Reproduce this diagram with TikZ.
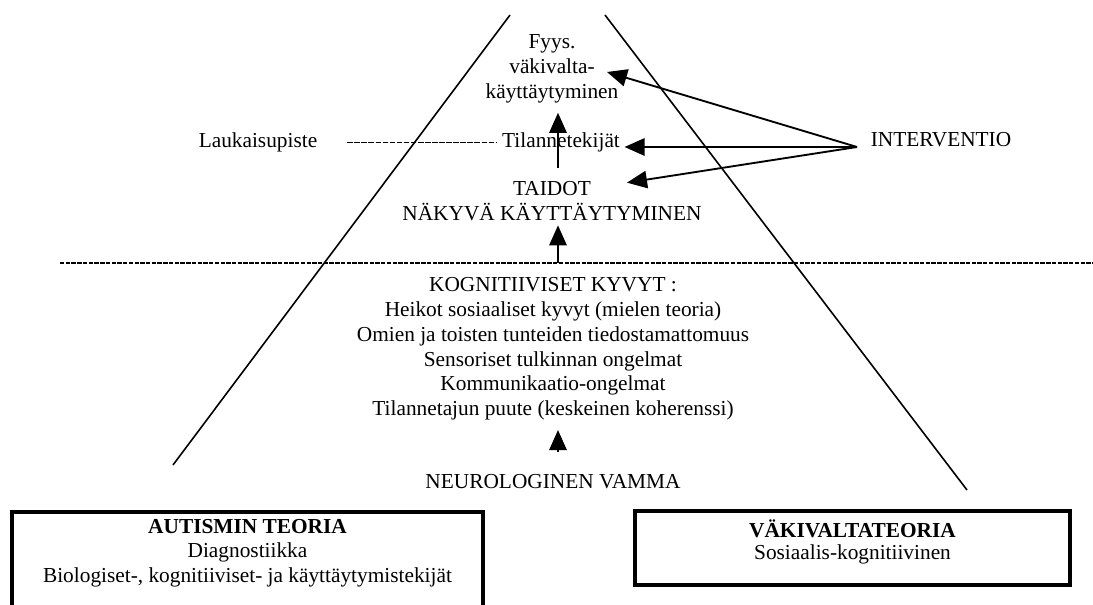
\documentclass[tikz,border=0pt]{standalone}
\usepackage{fontspec}
\setmainfont{Liberation Serif}
\usetikzlibrary{arrows.meta,positioning,calc}

\tikzset{
  arr/.style={-{Triangle[length=15pt,width=13pt]}, line width=1.4pt},
  leader/.style={line width=0.9pt, dash pattern=on 4.2pt off 1.1pt},
  cutline/.style={line width=0.8pt, dash pattern=on 3.3pt off 1pt},
  side/.style={line width=1.2pt},
  theory/.style={draw, line width=2.5pt, inner sep=0pt},
}

\begin{document}
\begin{tikzpicture}[x=0.75pt, y=-0.75pt, font=\fontsize{16}{18.6}\selectfont,
  every node/.style={align=center}]
\useasboundingbox (0,0) rectangle (1093,605);
\clip (0,0) rectangle (1093,605);

% sides
\draw[side] (510,15) -- (173,465);
\draw[side] (605,15) -- (967,490);

% column
\node (fyys) at (552,69) {Fyys.\\väkivalta-\\käyttäytyminen};
\node (tilanne) at (561,142.5) {Tilannetekijät};
\node (taidot) at (552,201) {TAIDOT\\NÄKYVÄ KÄYTTÄYTYMINEN};
\node (kogn) at (553,349) {KOGNITIIVISET KYVYT :\\
  Heikot sosiaaliset kyvyt (mielen teoria)\\
  Omien ja toisten tunteiden tiedostamattomuus\\
  Sensoriset tulkinnan ongelmat\\
  Kommunikaatio-ongelmat\\
  Tilannetajun puute (keskeinen koherenssi)};
\node (neuro) at (553,482) {NEUROLOGINEN VAMMA};

\node (laukaisu) at (258,142.5) {Laukaisupiste};
\node (interv) at (941,140) {INTERVENTIO};

\draw[leader, shorten <=19pt] (laukaisu.east) -- (tilanne.west);
\draw[cutline] (60,263) -- (1093,263);

% arrows up
\coordinate (axis) at (558,0);
\coordinate (split) at (558,263);
\draw[arr, shorten <=6.75pt, shorten >=3.75pt] (taidot.north -| axis) -- (fyys.south -| axis);
\draw[arr] (split) -- (taidot.south -| axis);
\draw[arr, shorten <=13.5pt, shorten >=3.75pt] (neuro.north -| axis) -- (kogn.south -| axis);

% intervention
\coordinate (hub) at ($(interv.west)+(-9,7)$);
\draw[arr] (hub) -- ($(fyys.center)+(55,3)$);
\draw[arr] (hub) -- (hub -| tilanne.east);
\draw[arr] (hub) -- ($(taidot.north)+(75,6)$);

% theories
\node[theory, minimum width=353.25pt, minimum height=111pt] (abox) at (247.5,586) {};
\node[below=3pt of abox.north] (atext) {\textbf{AUTISMIN TEORIA}\\Diagnostiikka\\
  Biologiset-, kognitiiviset- ja käyttäytymistekijät};
\node[theory, minimum width=326.25pt, minimum height=55.5pt] (vbox) at (852.5,548) {};
\node[below=4pt of vbox.north] (vtext) {\textbf{VÄKIVALTATEORIA}\\[-1.5pt]Sosiaalis-kognitiivinen};

\end{tikzpicture}
\end{document}
